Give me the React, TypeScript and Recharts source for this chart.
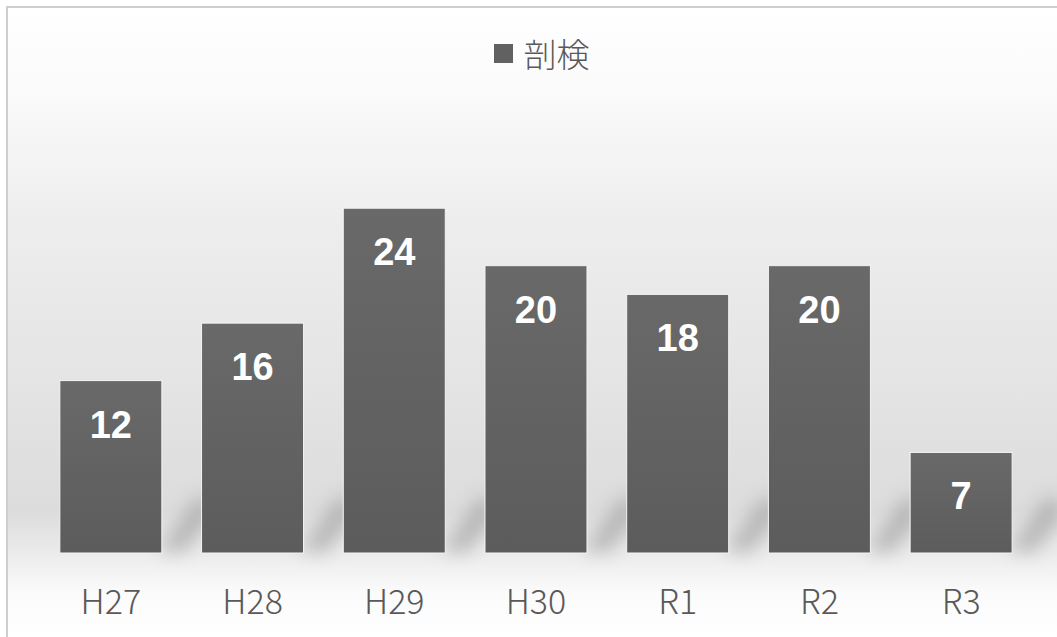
import React from "react";
import { BarChart, Bar, XAxis, YAxis, Legend, LabelList } from "recharts";

const categories = ["H27", "H28", "H29", "H30", "R1", "R2", "R3"];
const autopsyValues = [12, 16, 24, 20, 18, 20, 7];
const seriesName = "剖検";

const data = categories.map((c, i) => ({ name: c, value: autopsyValues[i] }));

const JP = '"Noto Sans CJK JP", "Noto Sans", sans-serif';

const ShadowBar = (props: any) => {
  const { x, y, width, height } = props;
  const bx = x + width;
  const by = y + height;
  const sh = Math.min(70, height);
  return (
    <g>
      <path
        d={`M${bx - 4},${by - 2} L${bx + 38},${by - sh + 10} L${bx + 52},${by - sh + 30} L${bx + 22},${by} Z`}
        fill="#8e8e8e"
        opacity={0.5}
        filter="url(#blurShadow)"
      />
      <rect x={x} y={y} width={width} height={height} fill="url(#barGrad)" stroke="#f4f4f4" strokeWidth={1} />
    </g>
  );
};

const LegendContent = () => (
  <div
    style={{
      display: "flex",
      alignItems: "center",
      justifyContent: "center",
      height: 40,
      paddingLeft: 26,
      fontFamily: JP,
      fontSize: 33,
      color: "#595959",
    }}
  >
    <span style={{ display: "inline-block", width: 19, height: 19, background: "#616161", marginRight: 11 }} />
    <span style={{ fontWeight: 300 }}>{seriesName}</span>
  </div>
);

export default function App() {
  return (
    <div
      style={{
        position: "absolute",
        left: 0,
        top: 0,
        width: 1057,
        height: 637,
        background: "#ffffff",
        overflow: "hidden",
      }}
    >
      <div
        style={{
          position: "absolute",
          left: 6,
          top: 6,
          width: 1051,
          height: 631,
          borderTop: "2px solid #cfcfcf",
          borderLeft: "2px solid #cfcfcf",
          boxSizing: "border-box",
          background:
            "linear-gradient(to bottom, #ffffff 0%, #fbfbfb 12%, #ededed 35%, #e4e4e4 60%, #dcdcdc 80%, #ececec 87%, #fbfbfb 93%, #ffffff 100%)",
        }}
      />
      <div style={{ position: "absolute", left: 0, top: 0 }}>
        <BarChart
          width={1057}
          height={637}
          data={data}
          margin={{ top: 82, right: 25, left: 40, bottom: 0 }}
          barCategoryGap="14%"
        >
          <defs>
            <linearGradient id="barGrad" x1="0" y1="0" x2="0" y2="1">
              <stop offset="0%" stopColor="#696969" />
              <stop offset="100%" stopColor="#5c5c5c" />
            </linearGradient>
            <filter id="blurShadow" x="-80%" y="-80%" width="260%" height="260%">
              <feGaussianBlur stdDeviation="9" />
            </filter>
          </defs>
          <Legend
            verticalAlign="top"
            align="center"
            content={<LegendContent />}
            wrapperStyle={{ top: 33, left: 0, width: 1057, height: 40 }}
          />
          <XAxis
            dataKey="name"
            axisLine={false}
            tickLine={false}
            height={84}
            interval={0}
            tick={{ fontSize: 34, fill: "#595959", fontFamily: JP, fontWeight: 300 }}
            dy={29}
          />
          <YAxis hide domain={[0, 30]} />
          <Bar dataKey="value" name={seriesName} shape={<ShadowBar />} isAnimationActive={false}>
            <LabelList
              dataKey="value"
              position="insideTop"
              offset={30}
              fill="#ffffff"
              style={{ fontSize: 38, fontWeight: 700, fontFamily: '"Liberation Sans", Arial, sans-serif' }}
            />
          </Bar>
        </BarChart>
      </div>
    </div>
  );
}
